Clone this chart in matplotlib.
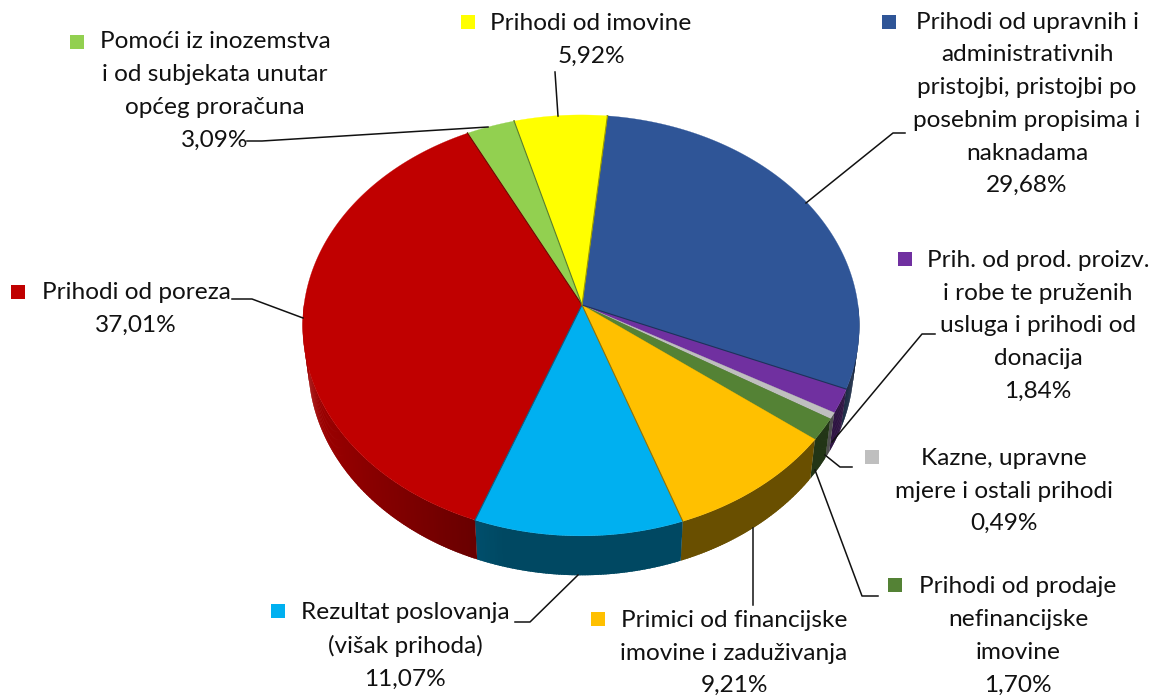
import numpy as np
import matplotlib
matplotlib.use("Agg")
import matplotlib.pyplot as plt

# clockwise from the top of the pie
names = ["Prihodi od upravnih i\nadministrativnih\npristojbi, pristojbi po\nposebnim propisima i\nnaknadama",
         "Prih. od prod. proizv.\ni robe te pruženih\nusluga i prihodi od\ndonacija",
         "Kazne, upravne\nmjere i ostali prihodi",
         "Prihodi od prodaje\nnefinancijske\nimovine",
         "Primici od financijske\nimovine i zaduživanja",
         "Rezultat poslovanja\n(višak prihoda)",
         "Prihodi od poreza",
         "Pomoći iz inozemstva\ni od subjekata unutar\nopćeg proračuna",
         "Prihodi od imovine"]
values = [29.68, 1.84, 0.49, 1.70, 9.21, 11.07, 37.01, 3.09, 5.92]
percent_labels = ["29,68%", "1,84%", "0,49%", "1,70%", "9,21%", "11,07%", "37,01%", "3,09%", "5,92%"]
colors = ["#2f5597", "#7030a0", "#bfbfbf", "#548235", "#ffc000", "#00b0f0", "#c00000", "#92d050", "#ffff00"]

# label centre x, centre y, legend key x, key y
label_pos = [(1027, 104, 889, 22), (1038, 326, 905, 259), (1004, 491, 872, 457),
             (1018, 636, 895, 585), (734, 653, 598, 619), (405, 646, 278, 611),
             (136, 309, 18, 292), (215, 91, 77, 42), (591, 40, 468, 22)]
leaders = [[(905, 133), (893, 133), (806, 203)],
           [(935, 334), (922, 334), (832, 442)],
           [(852, 467), (840, 467), (825, 455)],
           [(878, 596), (862, 596), (815, 470)],
           [(753, 605), (753, 528)],
           [(515, 622), (530, 622), (578, 575)],
           [(232, 299), (252, 299), (303, 318)],
           [(247, 141), (262, 141), (488, 127)],
           [(555, 72), (558, 116)]]

CX, CY = 581, 305
RX, RY = 277, 208.5
PERSP = 0.097
START = 6.0
DEPTH = 39


def top_point(t):
    t = np.radians(t)
    u, v = np.sin(t), np.cos(t)
    s = 1 / (1 + PERSP * v)
    return CX + RX * u * s, CY - RY * v * s


def low_point(t):
    x, y = top_point(t)
    return CX + 0.98 * (x - CX), CY + 0.98 * (y - CY) + DEPTH + 5 * (y - CY) / 230


def shade(col, f):
    return tuple(c * f for c in matplotlib.colors.to_rgb(col))


fig = plt.figure(figsize=(11.53, 6.96), dpi=100)
ax = fig.add_axes([0, 0, 1, 1])
ax.set_xlim(0, 1153)
ax.set_ylim(696, 0)
ax.axis("off")
plt.rcParams["font.family"] = ["Lato", "DejaVu Sans"]

edges = START + np.cumsum([0] + values) * 360 / sum(values)

# outer wall, thin overlapping strips for the shading
for i, col in enumerate(colors):
    ts = np.arange(edges[i], edges[i + 1], 0.5)
    for a in ts:
        if 90 < a % 360 < 270:
            b = min(a + 0.9, edges[i + 1])
            u = np.sin(np.radians(a))
            f = 0.41 + 0.3 * max(0, -u - 0.25) / 0.75
            if col == "#c00000":
                f = 0.5 + 0.35 * max(0, -u - 0.25) / 0.75
            p = [top_point(a), top_point(b), low_point(b), low_point(a)]
            ax.fill(*zip(*p), color=shade(col, f), lw=0, zorder=2)

# seams first, so the thin slices keep their full width
for i, col in enumerate(colors):
    for t in (edges[i], edges[i + 1]):
        ex, ey = top_point(t)
        ax.plot([CX + 1, ex], [CY, ey], color=shade(col, 0.6), lw=1.0, zorder=3)

# top face
for i, col in enumerate(colors):
    ts = np.linspace(edges[i], edges[i + 1], max(3, int(values[i] * 8)))
    xs, ys = top_point(ts)
    ax.fill(np.r_[CX + 1, xs], np.r_[CY, ys], facecolor=col, edgecolor=col, lw=0.2, zorder=3.2)

# dark line only where the big slices meet
for i in [0, 4, 5, 6, 7, 8]:
    ex, ey = top_point(edges[i + 1])
    ax.plot([CX + 1, ex], [CY, ey], color=shade(colors[i], 0.6), lw=0.8, zorder=3.5)

for i, name in enumerate(names):
    x, y, kx, ky = label_pos[i]
    ax.text(x, y, name + "\n" + percent_labels[i], ha="center", va="center", fontsize=17.6,
            linespacing=1.69, color="#111111", zorder=5)
    ax.scatter([kx], [ky], marker="s", s=110, color=colors[i], lw=0, zorder=5)
    ax.plot(*zip(*leaders[i]), color="#111111", lw=1.1, zorder=4)

fig.savefig("out.png", dpi=100)
